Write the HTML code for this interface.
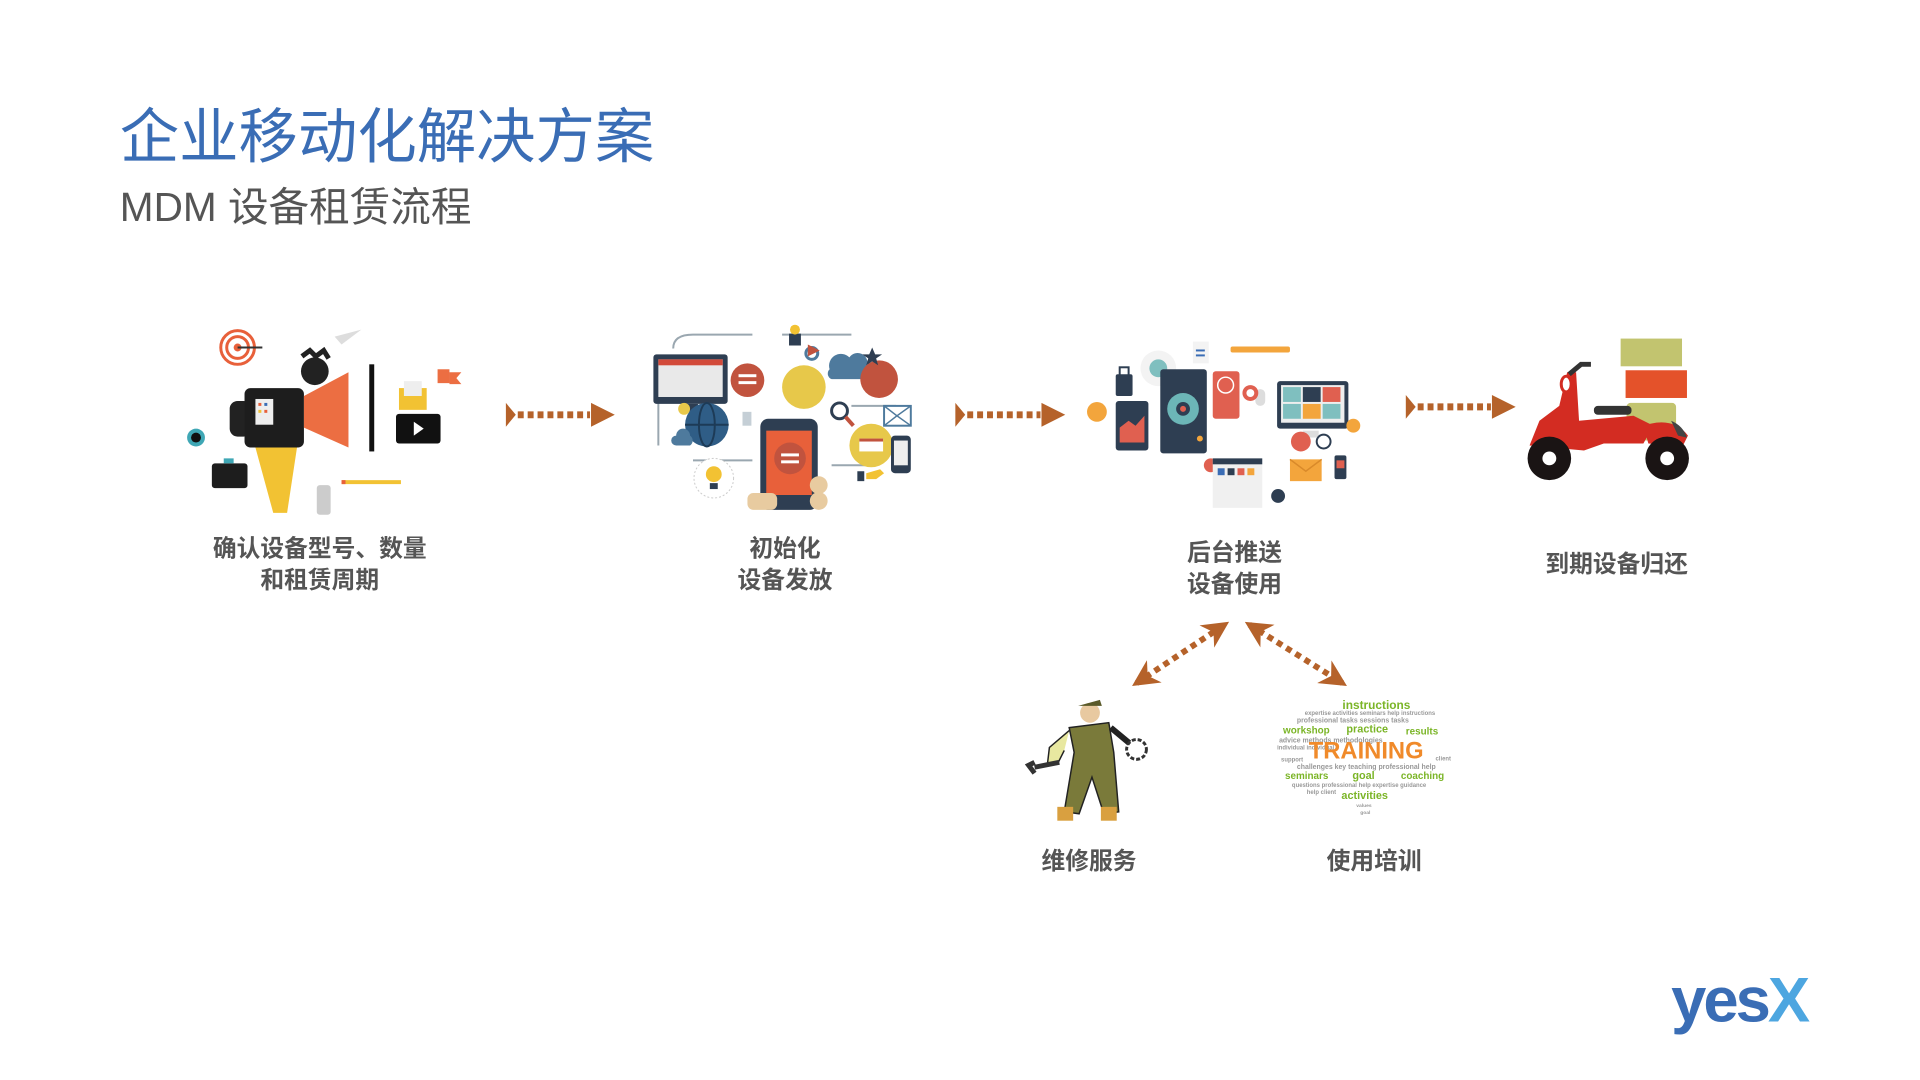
<!DOCTYPE html>
<html><head><meta charset="utf-8"><style>
html,body{margin:0;padding:0;background:#fff;width:1920px;height:1080px;overflow:hidden}
svg{display:block}
.cj{font-family:"Liberation Sans","Noto Sans CJK SC",sans-serif}
.lbl{font-size:24px;font-weight:bold;fill:#555;text-anchor:middle}
.w{font-family:"Liberation Sans",sans-serif;font-weight:bold}
</style></head><body>
<svg width="1920" height="1080" viewBox="0 0 1920 1080" xmlns="http://www.w3.org/2000/svg">
<defs>
<marker id="ah" viewBox="0 0 10 10" refX="8" refY="5" markerWidth="4.5" markerHeight="4.5" orient="auto-start-reverse" markerUnits="strokeWidth"><path d="M0,0 L10,5 L0,10 L3,5 z" fill="#b5622a"/></marker>
</defs>
<g transform="scale(0.99)">
<!-- titles -->
<text x="121" y="159" class="cj" font-size="60" fill="#3a6db5">企业移动化解决方案</text>
<text x="121" y="223" class="cj" font-size="41" fill="#555">MDM 设备租赁流程</text>

<!-- icon 1: megaphone -->
<g>
<circle cx="240" cy="351" r="17" fill="none" stroke="#e8603a" stroke-width="3"/>
<circle cx="240" cy="351" r="11" fill="none" stroke="#e8603a" stroke-width="3"/>
<circle cx="240" cy="351" r="4" fill="#e8603a"/>
<line x1="240" y1="351" x2="265" y2="351" stroke="#333" stroke-width="2"/>
<path d="M338,340 L365,333 L345,348 z" fill="#ddd"/>
<circle cx="318" cy="375" r="14" fill="#222"/>
<path d="M305,360 l8,-6 l6,6 l8,-6 l5,8" stroke="#222" stroke-width="5" fill="none"/>
<rect x="232" y="405" width="22" height="36" rx="8" fill="#222"/>
<rect x="247" y="392" width="60" height="60" rx="6" fill="#1d1d1d"/>
<rect x="258" y="403" width="18" height="26" fill="#eee"/>
<rect x="261" y="407" width="3" height="3" fill="#e8603a"/><rect x="267" y="407" width="3" height="3" fill="#3a6db5"/><rect x="261" y="414" width="3" height="3" fill="#f2c233"/><rect x="267" y="414" width="3" height="3" fill="#e8603a"/>
<path d="M307,400 L352,376 L352,452 L307,432 z" fill="#ec6e42"/>
<rect x="373" y="368" width="5" height="88" fill="#111"/>
<path d="M258,452 L300,452 L290,518 L276,518 z" fill="#f2c233"/>
<circle cx="198" cy="442" r="9" fill="#3fa7b5"/><circle cx="198" cy="442" r="5" fill="#111"/>
<rect x="214" y="468" width="36" height="25" rx="3" fill="#1d1d1d"/><rect x="226" y="463" width="10" height="5" fill="#3fa7b5"/>
<rect x="403" y="392" width="28" height="22" fill="#f2c233"/><rect x="408" y="385" width="18" height="15" fill="#eee"/>
<rect x="400" y="418" width="45" height="30" rx="3" fill="#111"/><path d="M418,426 l10,7 l-10,7 z" fill="#fff"/>
<rect x="442" y="373" width="12" height="14" fill="#ec6e42"/><path d="M454,376 l12,0 l-5,6 l5,6 l-12,0z" fill="#ec6e42"/>
<rect x="345" y="485" width="60" height="4" fill="#f2c233"/><rect x="345" y="485" width="4" height="4" fill="#e8603a"/>
<rect x="320" y="490" width="14" height="30" fill="#ccc" rx="3"/>
</g>
<text class="cj lbl" x="323" y="562">确认设备型号、数量</text>
<text class="cj lbl" x="323" y="594">和租赁周期</text>

<!-- icon 2: network -->
<g>
<path d="M680,352 Q680,338 700,338 L760,338 M790,338 L860,338 M665,390 L665,450 M700,465 L760,465 M860,410 L905,410 M840,470 L880,470" stroke="#9aa7b0" stroke-width="2" fill="none"/>
<rect x="660" y="358" width="75" height="50" rx="3" fill="#2e3e52"/><rect x="665" y="363" width="65" height="38" fill="#e9e9e9"/><rect x="665" y="363" width="65" height="6" fill="#d24a3a"/><rect x="690" y="408" width="15" height="8" fill="#2e3e52"/>
<circle cx="755" cy="384" r="17" fill="#c1533e"/><rect x="746" y="378" width="18" height="3" fill="#fff"/><rect x="746" y="385" width="18" height="3" fill="#fff"/>
<circle cx="812" cy="391" r="22" fill="#e7c84a"/>
<circle cx="714" cy="429" r="22" fill="#2f5d86"/><ellipse cx="714" cy="429" rx="8" ry="22" fill="none" stroke="#1d3b57" stroke-width="2"/><line x1="692" y1="429" x2="736" y2="429" stroke="#1d3b57" stroke-width="2"/>
<rect x="768" y="423" width="58" height="92" rx="8" fill="#2e3e52"/><rect x="774" y="435" width="46" height="65" fill="#e8603a"/><circle cx="798" cy="463" r="16" fill="#c1533e"/><rect x="789" y="458" width="18" height="3" fill="#fff"/><rect x="789" y="465" width="18" height="3" fill="#fff"/>
<rect x="755" y="498" width="30" height="17" rx="6" fill="#e8cba0"/><circle cx="827" cy="490" r="9" fill="#e8cba0"/><circle cx="827" cy="506" r="9" fill="#e8cba0"/>
<path d="M838,373 a12,12 0 0 1 20,-12 a10,10 0 0 1 18,8 a8,8 0 0 1 -2,14 l-34,0 a6,6 0 0 1 -2,-10z" fill="#4e7a9d"/>
<circle cx="888" cy="383" r="19" fill="#c1533e"/>
<path d="M881,351 l3,7 7,0 -6,4 2,7 -6,-4 -6,4 2,-7 -6,-4 7,0z" fill="#2e3e52"/>
<circle cx="820" cy="357" r="6" fill="none" stroke="#4e7a9d" stroke-width="3"/>
<path d="M816,348 l12,6 l-12,6z" fill="#c1533e"/>
<rect x="797" y="337" width="12" height="12" fill="#2e3e52"/><circle cx="803" cy="333" r="5" fill="#f2c233"/>
<circle cx="848" cy="415" r="8" fill="none" stroke="#2e3e52" stroke-width="3"/><line x1="854" y1="421" x2="862" y2="430" stroke="#c1533e" stroke-width="4"/>
<rect x="893" y="410" width="27" height="20" fill="#fff" stroke="#4e7a9d" stroke-width="2"/><path d="M893,410 l13,10 l14,-10 M893,430 l13,-10 l14,10" stroke="#4e7a9d" stroke-width="1.5" fill="none"/>
<circle cx="880" cy="450" r="22" fill="#e7c84a"/><rect x="868" y="443" width="24" height="13" fill="#fff"/><rect x="868" y="443" width="24" height="3" fill="#c1533e"/>
<rect x="900" y="440" width="20" height="38" rx="4" fill="#2e3e52"/><rect x="903" y="445" width="14" height="25" fill="#eee"/>
<path d="M875,478 l14,-4 l4,4 -8,6 -10,0z" fill="#f2c233"/><rect x="866" y="476" width="7" height="10" fill="#2e3e52"/>
<circle cx="721" cy="483" r="20" fill="#fff" stroke="#ccc" stroke-dasharray="2 2"/><circle cx="721" cy="479" r="8" fill="#f2c233"/><rect x="717" y="488" width="8" height="6" fill="#2e3e52"/>
<path d="M683,440 a7,7 0 0 1 14,0 a6,6 0 0 1 0,10 l-14,0 a5,5 0 0 1 0,-10z" fill="#4e7a9d"/>
<circle cx="691" cy="413" r="6" fill="#e7c84a"/>
<rect x="750" y="416" width="9" height="14" fill="#c5cfd6"/>
</g>
<text class="cj lbl" x="793" y="562">初始化</text>
<text class="cj lbl" x="793" y="594">设备发放</text>

<!-- icon 3 -->
<g>
<circle cx="1170" cy="372" r="18" fill="#f3f3f3"/><circle cx="1170" cy="372" r="9" fill="#7fbfbf"/>
<rect x="1205" y="345" width="16" height="22" fill="#f3f3f3"/><rect x="1208" y="353" width="9" height="2" fill="#3a6db5"/><rect x="1208" y="358" width="9" height="2" fill="#3a6db5"/>
<rect x="1243" y="350" width="60" height="6" fill="#f3a53c" rx="2"/>
<rect x="1127" y="378" width="17" height="22" fill="#2e3e52" rx="2"/><rect x="1131" y="371" width="9" height="9" fill="none" stroke="#2e3e52" stroke-width="2"/>
<circle cx="1108" cy="416" r="10" fill="#f3a53c"/>
<rect x="1127" y="405" width="33" height="50" rx="3" fill="#2e3e52"/><path d="M1131,447 L1131,432 L1140,425 L1147,430 L1156,420 L1156,447z" fill="#e06050"/>
<rect x="1172" y="373" width="47" height="85" rx="3" fill="#2e3e52"/><circle cx="1195" cy="413" r="16" fill="#6cb6b7"/><circle cx="1195" cy="413" r="7" fill="#2e3e52"/><circle cx="1195" cy="413" r="3" fill="#e06050"/>
<rect x="1225" y="375" width="27" height="48" rx="3" fill="#e06050"/><circle cx="1238" cy="389" r="8" fill="none" stroke="#fff" stroke-width="1.5"/>
<rect x="1268" y="393" width="10" height="17" rx="5" fill="#ddd"/>
<circle cx="1263" cy="397" r="8" fill="#e06050"/><circle cx="1263" cy="397" r="4" fill="#fff"/>
<rect x="1290" y="385" width="72" height="48" rx="3" fill="#2e3e52"/><rect x="1294" y="389" width="64" height="38" fill="#eee"/><rect x="1296" y="391" width="18" height="15" fill="#7fbfbf"/><rect x="1316" y="391" width="18" height="15" fill="#2e3e52"/><rect x="1336" y="391" width="18" height="15" fill="#e06050"/><rect x="1296" y="408" width="18" height="15" fill="#7fbfbf"/><rect x="1316" y="408" width="18" height="15" fill="#f3a53c"/><rect x="1336" y="408" width="18" height="15" fill="#7fbfbf"/>
<rect x="1316" y="435" width="16" height="7" fill="#ddd"/>
<circle cx="1314" cy="446" r="10" fill="#e06050"/><circle cx="1337" cy="446" r="7" fill="none" stroke="#2e3e52" stroke-width="2"/>
<circle cx="1367" cy="430" r="7" fill="#f3a53c"/><circle cx="1212" cy="443" r="3" fill="#f3a53c"/>
<circle cx="1223" cy="470" r="7" fill="#e06050"/>
<rect x="1225" y="463" width="50" height="50" fill="#f0f0f0"/><rect x="1225" y="463" width="50" height="6" fill="#2e3e52"/><rect x="1230" y="473" width="7" height="7" fill="#3a6db5"/><rect x="1240" y="473" width="7" height="7" fill="#2e3e52"/><rect x="1250" y="473" width="7" height="7" fill="#e06050"/><rect x="1260" y="473" width="7" height="7" fill="#f3a53c"/>
<rect x="1303" y="464" width="32" height="22" fill="#f3a53c"/><path d="M1303,464 l16,12 l16,-12" stroke="#d98a2a" stroke-width="1.5" fill="none"/>
<rect x="1348" y="460" width="12" height="24" rx="2" fill="#2e3e52"/><rect x="1350" y="465" width="8" height="8" fill="#e06050"/>
<circle cx="1291" cy="501" r="7" fill="#2e3e52"/>
</g>
<text class="cj lbl" x="1247" y="566">后台推送</text>
<text class="cj lbl" x="1247" y="598">设备使用</text>

<!-- scooter -->
<g>
<rect x="1637" y="342" width="62" height="28" fill="#c2c46f"/>
<rect x="1642" y="374" width="62" height="28" fill="#e4522a"/>
<rect x="1643" y="407" width="50" height="38" rx="4" fill="#c2c46f"/>
<path d="M1583,376 L1575,410 L1555,425 L1545,450 L1600,455 L1620,448 L1660,448 L1670,430 L1650,420 L1595,425 L1592,376z" fill="#d32c22"/>
<path d="M1660,430 Q1690,420 1705,440 L1700,450 L1665,448z" fill="#d32c22"/>
<ellipse cx="1582" cy="388" rx="5" ry="8" fill="#fff" stroke="#d32c22" stroke-width="3"/>
<path d="M1585,378 l12,-10 l10,0" stroke="#333" stroke-width="5" fill="none"/>
<rect x="1610" y="410" width="38" height="9" rx="4" fill="#333"/>
<path d="M1688,425 Q1700,430 1704,442 L1695,440z" fill="#444"/>
<circle cx="1565" cy="463" r="22" fill="#1a1414"/><circle cx="1565" cy="463" r="7" fill="#fff"/>
<circle cx="1684" cy="463" r="22" fill="#1a1414"/><circle cx="1684" cy="463" r="7" fill="#fff"/>
</g>
<text class="cj lbl" x="1633" y="578">到期设备归还</text>

<!-- horizontal arrows -->
<g fill="#b5622a">
<path d="M511,407 L521,419 L511,431z"/><line x1="523" y1="419" x2="596" y2="419" stroke="#b5622a" stroke-width="7" stroke-dasharray="6 4"/><path d="M597,407 L621,419 L597,431z"/>
<path d="M965,407 L975,419 L965,431z"/><line x1="977" y1="419" x2="1051" y2="419" stroke="#b5622a" stroke-width="7" stroke-dasharray="6 4"/><path d="M1052,407 L1076,419 L1052,431z"/>
<path d="M1420,399 L1430,411 L1420,423z"/><line x1="1432" y1="411" x2="1506" y2="411" stroke="#b5622a" stroke-width="7" stroke-dasharray="6 4"/><path d="M1507,399 L1531,411 L1507,423z"/>
</g>
<!-- diagonal arrows -->
<line x1="1148" y1="690" x2="1237" y2="631" stroke="#b5622a" stroke-width="6" stroke-dasharray="6 5" marker-start="url(#ah)" marker-end="url(#ah)"/>
<line x1="1262" y1="631" x2="1356" y2="690" stroke="#b5622a" stroke-width="6" stroke-dasharray="6 5" marker-start="url(#ah)" marker-end="url(#ah)"/>

<!-- mechanic -->
<g>
<circle cx="1101" cy="720" r="10" fill="#e8c9a0"/><path d="M1089,713 l22,-6 l2,6 z" fill="#5a5a2a"/>
<path d="M1080,735 L1120,730 L1125,760 L1130,820 L1115,822 L1103,785 L1090,822 L1075,820 L1085,760z" fill="#7a7a3a" stroke="#222" stroke-width="1.5"/>
<path d="M1080,738 L1060,755 L1058,772 L1068,772 L1075,758" fill="#e8e8a0" stroke="#222" stroke-width="1.5"/>
<path d="M1122,735 L1140,750 L1150,760" stroke="#222" stroke-width="6" fill="none"/>
<path d="M1045,775 l25,-5 M1045,770 l-6,3 l6,8" stroke="#333" stroke-width="5" fill="none"/>
<circle cx="1148" cy="757" r="10" fill="#fff" stroke="#333" stroke-width="3" stroke-dasharray="4 2"/>
<rect x="1068" y="815" width="16" height="14" fill="#d9a040"/><rect x="1112" y="815" width="16" height="14" fill="#d9a040"/>
</g>
<text class="cj lbl" x="1100" y="878">维修服务</text>

<!-- training cloud -->
<g class="w">
<text x="1356" y="716" font-size="12" fill="#7bb527">instructions</text>
<text x="1318" y="722" font-size="6" fill="#999">expertise activities seminars help instructions</text>
<text x="1310" y="730" font-size="7" fill="#999">professional  tasks   sessions  tasks</text>
<text x="1296" y="741" font-size="10" fill="#7bb527">workshop</text>
<text x="1360" y="740" font-size="11" fill="#7bb527">practice</text>
<text x="1420" y="742" font-size="10" fill="#7bb527">results</text>
<text x="1292" y="750" font-size="7" fill="#999">advice    methods    methodologies</text>
<text x="1290" y="757" font-size="6" fill="#999">individual          individual</text>
<text x="1322" y="766" font-size="24" fill="#f08a2a">TRAINING</text>
<text x="1294" y="769" font-size="6" fill="#999">support</text><text x="1450" y="768" font-size="6" fill="#999">client</text>
<text x="1310" y="777" font-size="7" fill="#999">challenges key teaching professional help</text>
<text x="1298" y="787" font-size="10" fill="#7bb527">seminars</text>
<text x="1366" y="787" font-size="11" fill="#7bb527">goal</text>
<text x="1415" y="787" font-size="10" fill="#7bb527">coaching</text>
<text x="1305" y="795" font-size="6" fill="#999">questions   professional help  expertise  guidance</text>
<text x="1320" y="802" font-size="6" fill="#999">help   client</text>
<text x="1355" y="807" font-size="11" fill="#7bb527">activities</text>
<text x="1370" y="815" font-size="5" fill="#999">values</text>
<text x="1374" y="822" font-size="5" fill="#999">goal</text>
</g>
<text class="cj lbl" x="1388" y="878">使用培训</text>

<!-- logo -->
<text x="1688" y="1032" font-family="Liberation Sans,sans-serif" font-size="64" font-weight="bold" letter-spacing="-3"><tspan fill="#3a6db5">yes</tspan><tspan fill="#4da6e0">X</tspan></text>
</g>
</svg>
</body></html>
